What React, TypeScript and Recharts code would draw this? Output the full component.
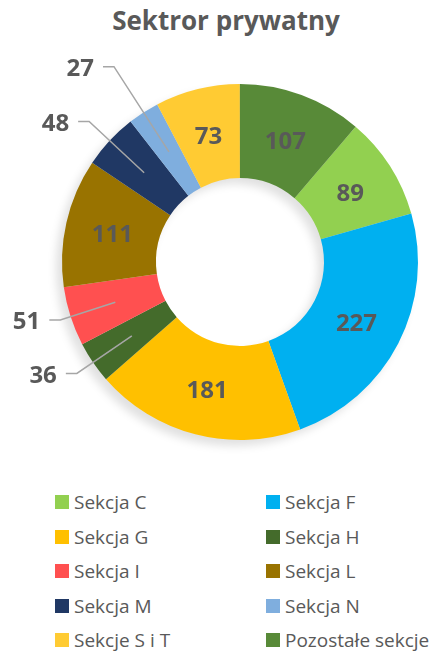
import { Cell, Pie, PieChart } from "recharts";

const sections = [
  "Sekcja C",
  "Sekcja F",
  "Sekcja G",
  "Sekcja H",
  "Sekcja I",
  "Sekcja L",
  "Sekcja M",
  "Sekcja N",
  "Sekcje S i T",
  "Pozostałe sekcje",
];
const counts = [89, 227, 181, 36, 51, 111, 48, 27, 73, 107];
const colors = [
  "#92D050",
  "#00B0F0",
  "#FFC000",
  "#446B2B",
  "#FF5050",
  "#997300",
  "#203864",
  "#7FAEDE",
  "#FFCB33",
  "#588A38",
];

const data = sections.map((name, i) => ({ name, value: counts[i] }));

const RADIAN = Math.PI / 180;
const TEXT = "#595959";
const FONT = "'Open Sans', sans-serif";

const renderLabel = (props: any) => {
  const { cx, cy, midAngle, innerRadius, outerRadius, value } = props;
  const cos = Math.cos(-midAngle * RADIAN);
  const sin = Math.sin(-midAngle * RADIAN);
  const mid = (innerRadius + outerRadius) / 2;
  if (value >= 60) {
    return (
      <text
        x={cx + mid * cos}
        y={cy + mid * sin}
        textAnchor="middle"
        dominantBaseline="central"
        fill={TEXT}
        fontSize={24}
        fontWeight={700}
        fontFamily={FONT}
      >
        {value}
      </text>
    );
  }
  // small slices: leader line along the slice direction until it is 55px
  // to the left of the ring middle, then a short horizontal tick
  const sx = cx + mid * cos;
  const sy = cy + mid * sin;
  const t = 55 / Math.max(Math.abs(cos), 0.3);
  const ex = sx + t * cos;
  const ey = sy + t * sin;
  const hx = ex - 11;
  return (
    <g>
      <polyline
        points={`${sx},${sy} ${ex},${ey} ${hx},${ey}`}
        fill="none"
        stroke="#A6A6A6"
        strokeWidth={1.5}
      />
      <text
        x={hx - 9}
        y={ey}
        textAnchor="end"
        dominantBaseline="central"
        fill={TEXT}
        fontSize={24}
        fontWeight={700}
        fontFamily={FONT}
      >
        {value}
      </text>
    </g>
  );
};

export default function App() {
  return (
    <div
      style={{
        position: "absolute",
        left: 0,
        top: 0,
        width: 446,
        height: 655,
        background: "#fff",
      }}
    >
      <style>{`.ring-shadow { filter: blur(3px); opacity: 0.35; transform: translate(-3px, 3px); }`}</style>
      <div
        style={{
          position: "absolute",
          top: 2,
          left: 0,
          width: 452,
          textAlign: "center",
          fontFamily: FONT,
          fontWeight: 700,
          fontSize: 26,
          color: TEXT,
        }}
      >
        Sektror prywatny
      </div>
      <div style={{ position: "absolute", left: 0, top: 0 }}>
        <PieChart
          width={446}
          height={470}
          margin={{ top: 0, right: 0, bottom: 0, left: 0 }}
        >
          <Pie
            className="ring-shadow"
            data={data}
            dataKey="value"
            cx={240}
            cy={262}
            innerRadius={84}
            outerRadius={178}
            startAngle={49.5}
            endAngle={-310.5}
            stroke="none"
            fill="#000"
            isAnimationActive={false}
          />
          <Pie
            data={data}
            dataKey="value"
            nameKey="name"
            cx={240}
            cy={262}
            innerRadius={84}
            outerRadius={178}
            startAngle={49.5}
            endAngle={-310.5}
            stroke="none"
            label={renderLabel}
            labelLine={false}
            isAnimationActive={false}
          >
            {data.map((d, i) => (
              <Cell key={d.name} fill={colors[i]} />
            ))}
          </Pie>
        </PieChart>
      </div>
      <div
        style={{
          position: "absolute",
          top: 485,
          left: 55,
          display: "grid",
          gridTemplateColumns: "211px 180px",
          gridAutoRows: "34.5px",
          fontFamily: FONT,
          fontSize: 19,
          color: TEXT,
        }}
      >
        {sections.map((name, i) => (
          <div key={name} style={{ display: "flex", alignItems: "center" }}>
            <span
              style={{
                width: 14,
                height: 14,
                background: colors[i],
                marginRight: 5,
                flexShrink: 0,
              }}
            />
            <span style={{ whiteSpace: "nowrap" }}>{name}</span>
          </div>
        ))}
      </div>
    </div>
  );
}
